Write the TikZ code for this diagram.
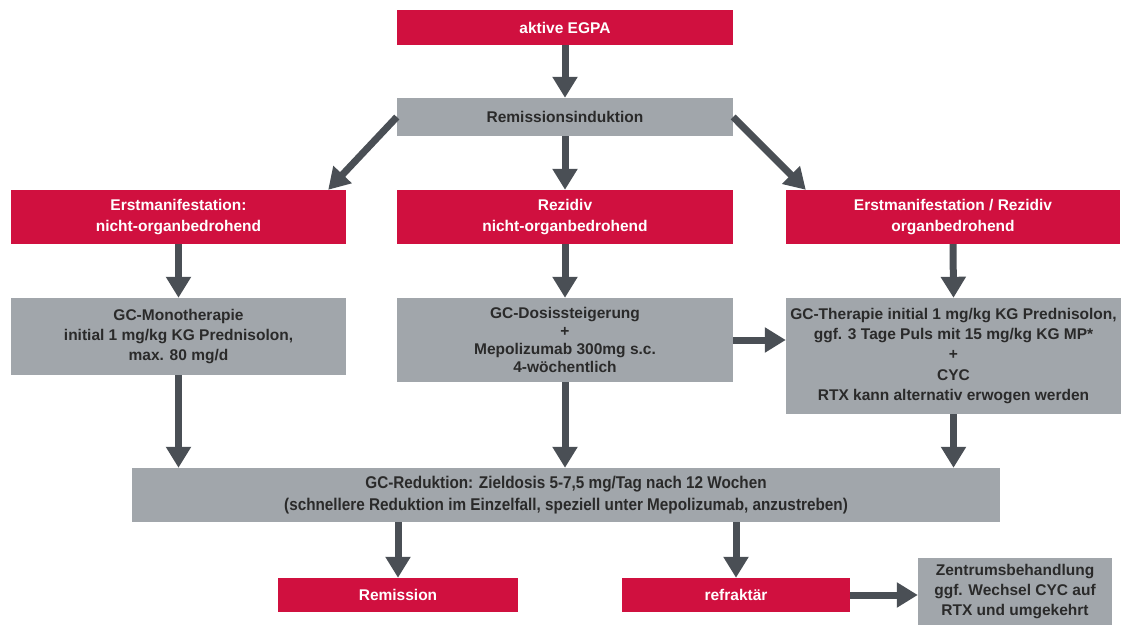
\documentclass[tikz,border=0pt]{standalone}
\usepackage{fontspec}
\setmainfont{Liberation Sans}
\newfontfamily\narrowfont[FakeStretch=0.9]{Liberation Sans}
\usetikzlibrary{arrows.meta,calc}
\definecolor{egred}{HTML}{D0103F}
\definecolor{eggray}{HTML}{A1A6AB}
\definecolor{egarrow}{HTML}{4A4F55}
\definecolor{egtext}{HTML}{2A2A2A}
\tikzset{
  redbox/.style={fill=egred, text=white, font=\bfseries\fontsize{15.5}{21}\selectfont, align=center, inner sep=0pt},
  graybox/.style={fill=eggray, text=egtext, font=\bfseries\fontsize{15.5}{20}\selectfont, align=center, inner sep=0pt},
  flow/.style={draw=egarrow, line width=7pt, -{Triangle[width=24pt,length=21pt]}},
}
\begin{document}
\begin{tikzpicture}[x=1pt,y=-1pt]
\useasboundingbox (0,0) rectangle (1124,628);
% row 1
\node[redbox, minimum width=336pt, minimum height=35pt] (egpa) at (565,27.5) {aktive EGPA};
\node[graybox, minimum width=336pt, minimum height=38pt] (remiss) at (565,117) {Remissionsinduktion};
% row 2
\node[redbox, minimum width=335pt, minimum height=54pt] (erst) at (178.5,217) {Erstmanifestation:\\nicht-organbedrohend};
\node[redbox, minimum width=336pt, minimum height=54pt] (rez) at (565,217) {Rezidiv\\nicht-organbedrohend};
\node[redbox, minimum width=334pt, minimum height=54pt] (organ) at (953,217) {Erstmanifestation / Rezidiv\\organbedrohend};
% row 3
\node[graybox, minimum width=335pt, minimum height=77pt] (mono) at (178.5,336.5) {GC-Monotherapie\\initial 1 mg/kg KG Prednisolon,\\max. 80 mg/d};
\node[graybox, minimum width=336pt, minimum height=84pt, font=\bfseries\fontsize{15.5}{18}\selectfont] (dosis) at (565,340) {GC-Dosissteigerung\\+\\Mepolizumab 300mg s.c.\\4-wöchentlich};
\node[graybox, minimum width=335pt, minimum height=116pt, font=\bfseries\fontsize{15.5}{20.3}\selectfont] (ther) at (953.5,356) {GC-Therapie initial 1 mg/kg KG Prednisolon,\\ggf. 3 Tage Puls mit 15 mg/kg KG MP*\\+\\CYC\\RTX kann alternativ erwogen werden};
% row 4
\node[graybox, minimum width=868pt, minimum height=54pt, font=\narrowfont\bfseries\fontsize{17}{22}\selectfont] (redu) at (566,495) {GC-Reduktion: Zieldosis 5-7,5 mg/Tag nach 12 Wochen\\(schnellere Reduktion im Einzelfall, speziell unter Mepolizumab, anzustreben)};
% row 5
\node[redbox, minimum width=240pt, minimum height=34pt] (remission) at (398,595) {Remission};
\node[redbox, minimum width=228pt, minimum height=34pt] (refr) at (736,595) {refraktär};
\node[graybox, minimum width=194pt, minimum height=67pt] (zentrum) at (1015,591.5) {Zentrumsbehandlung\\ggf. Wechsel CYC auf\\RTX und umgekehrt};
% connectors
\draw[flow] (egpa.south) -- (remiss.north);
\draw[flow] (remiss.west) -- ([xshift=-18pt]erst.north east);
\draw[flow] (remiss.south) -- (rez.north);
\draw[flow] (remiss.east) -- ([xshift=20pt]organ.north west);
\draw[flow] (erst.south) -- (mono.north);
\draw[flow] (rez.south) -- (dosis.north);
\draw[flow] (organ.south) -- (ther.north);
\draw[flow] (dosis.east) -- (dosis.east -| ther.west);
\draw[flow] (mono.south) -- (mono.south |- redu.north);
\draw[flow] (dosis.south) -- (dosis.south |- redu.north);
\draw[flow] (ther.south) -- (ther.south |- redu.north);
\draw[flow] (redu.south -| remission.north) -- (remission.north);
\draw[flow] (redu.south -| refr.north) -- (refr.north);
\draw[flow] (refr.east) -- (refr.east -| zentrum.west);
\end{tikzpicture}
\end{document}
